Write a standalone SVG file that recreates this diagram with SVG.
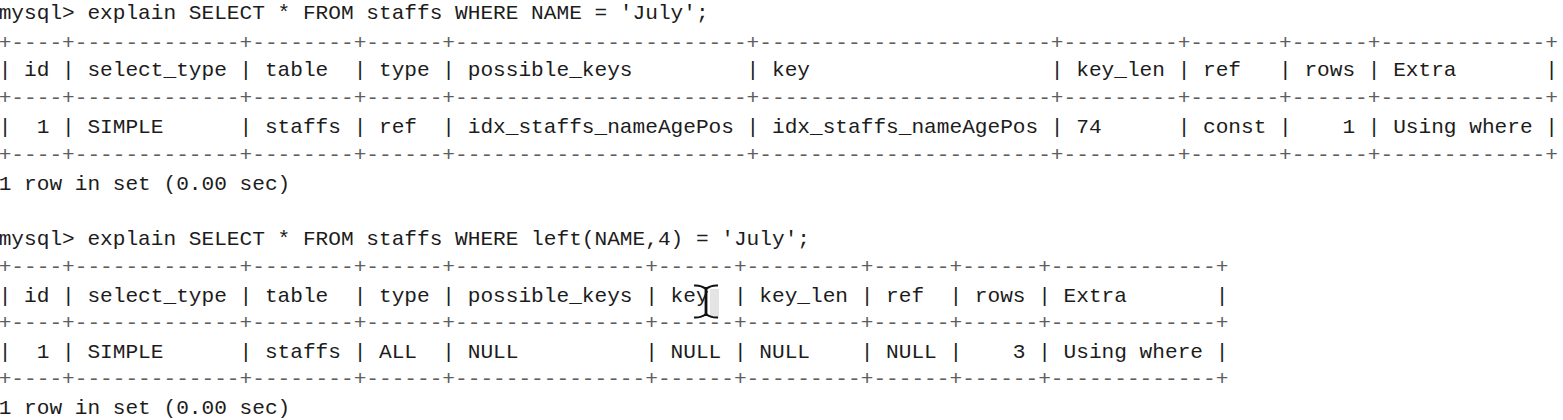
<svg xmlns="http://www.w3.org/2000/svg" width="1563" height="420" viewBox="0 0 1563 420">
<style>
text{font-family:"Liberation Mono","DejaVu Sans Mono",monospace;font-size:21.13px;white-space:pre}
.t{fill:#1c1c1c}
.b{fill:#5e5e5e}
</style>
<rect width="1563" height="420" fill="#ffffff"/>
<g id="query1">
<text class="t" x="-1.34" y="19.3" xml:space="preserve">mysql&gt; explain SELECT * FROM staffs WHERE NAME = 'July';</text>
</g>
<g id="table1">
<text class="b" x="-1.34" y="48.5" xml:space="preserve">+----+-------------+--------+------+-----------------------+-----------------------+---------+-------+------+-------------+</text>
<text class="t" x="-1.34" y="76.2" xml:space="preserve">| id | select_type | table  | type | possible_keys         | key                   | key_len | ref   | rows | Extra       |</text>
<text class="b" x="-1.34" y="104.3" xml:space="preserve">+----+-------------+--------+------+-----------------------+-----------------------+---------+-------+------+-------------+</text>
<text class="t" x="-1.34" y="132.8" xml:space="preserve">|  1 | SIMPLE      | staffs | ref  | idx_staffs_nameAgePos | idx_staffs_nameAgePos | 74      | const |    1 | Using where |</text>
<text class="b" x="-1.34" y="160.9" xml:space="preserve">+----+-------------+--------+------+-----------------------+-----------------------+---------+-------+------+-------------+</text>
</g>
<g id="result1">
<text class="t" x="-1.34" y="189.8" xml:space="preserve">1 row in set (0.00 sec)</text>
</g>
<g id="query2">
<text class="t" x="-1.34" y="245.3" xml:space="preserve">mysql&gt; explain SELECT * FROM staffs WHERE left(NAME,4) = 'July';</text>
</g>
<g id="table2">
<text class="b" x="-1.34" y="272.5" xml:space="preserve">+----+-------------+--------+------+---------------+------+---------+------+------+-------------+</text>
<text class="t" x="-1.34" y="301.6" xml:space="preserve">| id | select_type | table  | type | possible_keys | key  | key_len | ref  | rows | Extra       |</text>
<text class="b" x="-1.34" y="329.2" xml:space="preserve">+----+-------------+--------+------+---------------+------+---------+------+------+-------------+</text>
<text class="t" x="-1.34" y="358.2" xml:space="preserve">|  1 | SIMPLE      | staffs | ALL  | NULL          | NULL | NULL    | NULL |    3 | Using where |</text>
<text class="b" x="-1.34" y="385.3" xml:space="preserve">+----+-------------+--------+------+---------------+------+---------+------+------+-------------+</text>
</g>
<g id="result2">
<text class="t" x="-1.34" y="413.6" xml:space="preserve">1 row in set (0.00 sec)</text>
</g>
<g id="cursor">
<rect x="710" y="289" width="9" height="29" fill="#d8d8d8" opacity="0.7"/>
<rect x="704.6" y="287" width="2.8" height="29" fill="#111"/>
<path d="M694,285.5 Q701,285 706,289 Q711,285 718,285.5" fill="none" stroke="#111" stroke-width="2"/>
<path d="M694,317.5 Q701,318 706,314 Q711,318 718,317.5" fill="none" stroke="#111" stroke-width="2"/>
</g>
</svg>
